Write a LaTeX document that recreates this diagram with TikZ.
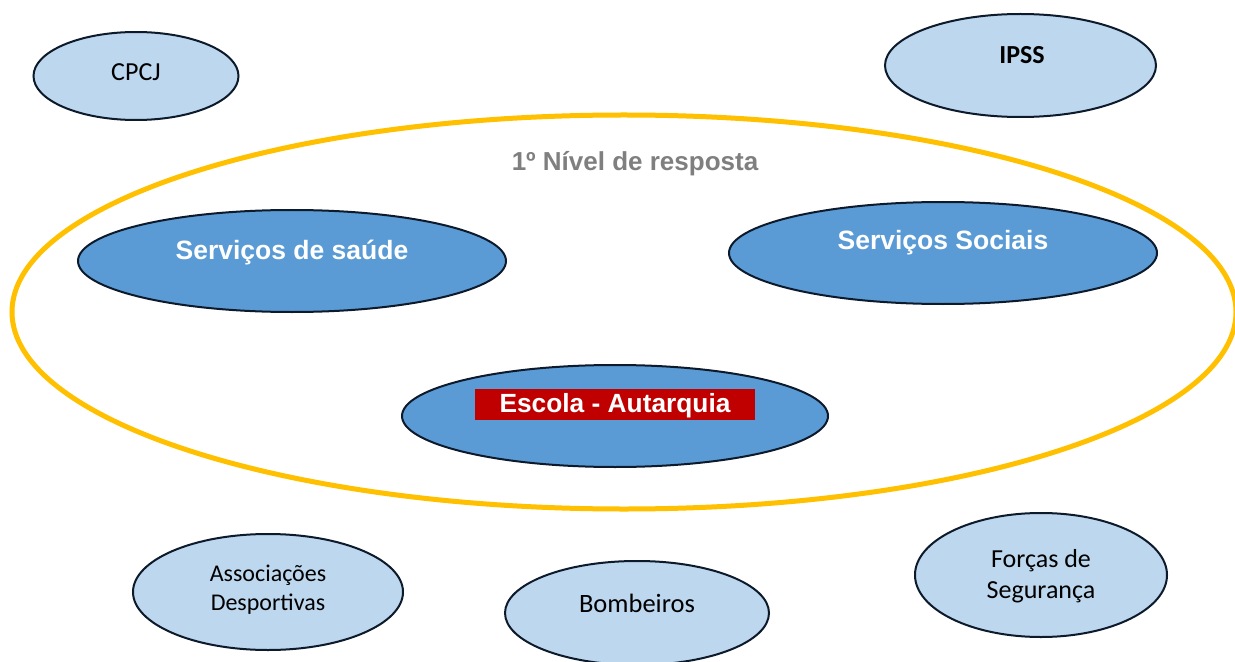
\documentclass[tikz,border=0pt]{standalone}
\usepackage{fontspec}
\usetikzlibrary{shapes.geometric}
\newfontfamily\arialf{Liberation Sans}
\newfontfamily\calf{Carlito}
\definecolor{lightblue}{HTML}{BDD7EE}
\definecolor{midblue}{HTML}{5B9BD5}
\definecolor{outline}{HTML}{0D1A2B}
\definecolor{goldline}{HTML}{FFC000}
\definecolor{darkred}{HTML}{C00000}
\definecolor{graytext}{HTML}{7F7F7F}
\tikzset{
  outer/.style={ellipse, draw=outline, line width=2bp, fill=lightblue, inner sep=0pt},
  inner/.style={ellipse, draw=outline, line width=2bp, fill=midblue, inner sep=0pt},
  lighttext/.style={inner sep=0pt, align=center, text=black, font=\calf\fontsize{26bp}{31bp}\selectfont},
  boldtext/.style={inner sep=0pt, align=center, text=white, font=\arialf\bfseries\fontsize{26.5bp}{31bp}\selectfont},
}
\begin{document}
\begin{tikzpicture}[x=1bp,y=-1bp]
\useasboundingbox[fill=white] (0,0) rectangle (1235,662);
% big yellow ellipse
\node[ellipse, draw=goldline, line width=5bp, minimum width=1224bp, minimum height=394bp, inner sep=0pt] (nivel) at (624,312) {};
\node[inner sep=0pt, text=graytext, font=\arialf\bfseries\fontsize{26bp}{30bp}\selectfont] (nivelt) at (635,164) {1º Nível de resposta};
% outer ellipses
\node[outer, minimum width=205bp, minimum height=88bp] (cpcj) at (136,76) {};
\node[lighttext] (cpcjt) at (136,72) {CPCJ};
\node[outer, minimum width=271bp, minimum height=103bp] (ipss) at (1020.5,65.5) {};
\node[lighttext, font=\calf\bfseries\fontsize{26bp}{31bp}\selectfont] (ipsst) at (1022,55) {IPSS};
\node[outer, minimum width=270bp, minimum height=116bp] (assoc) at (268,592) {};
\node[lighttext, font=\calf\fontsize{24bp}{29bp}\selectfont] (assoct) at (268,590) {Associações\\Desportivas};
\node[outer, minimum width=264bp, minimum height=104bp] (bomb) at (637,613) {};
\node[lighttext, font=\calf\fontsize{26.5bp}{31bp}\selectfont] (bombt) at (637,603) {Bombeiros};
\node[outer, minimum width=252bp, minimum height=124bp] (forcas) at (1041,575) {};
\node[lighttext] (forcast) at (1041,576) {Forças de\\Segurança};
% inner ellipses
\node[inner, minimum width=428bp, minimum height=102bp] (saude) at (292,261) {};
\node[boldtext] (saudet) at (292,253) {Serviços de saúde};
\node[inner, minimum width=428bp, minimum height=102bp] (sociais) at (943,253) {};
\node[boldtext] (sociaist) at (943,243) {Serviços Sociais};
\node[inner, minimum width=426bp, minimum height=102bp] (escola) at (615,416) {};
\node[fill=darkred, minimum width=280bp, minimum height=31bp, inner sep=0pt] (escolabox) at (615,404.5) {};
\node[boldtext, font=\arialf\bfseries\fontsize{26.3bp}{31bp}\selectfont] (escolat) at (615,406) {Escola - Autarquia};
\end{tikzpicture}
\end{document}
